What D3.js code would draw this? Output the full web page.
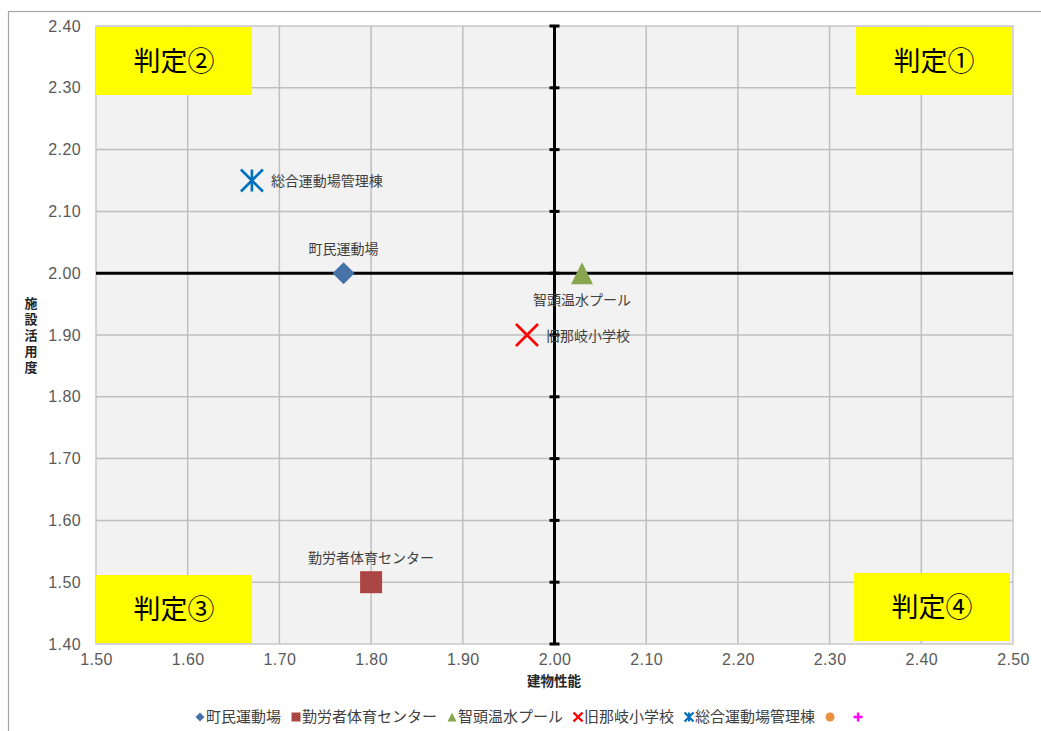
<!DOCTYPE html>
<html><head><meta charset="utf-8">
<script src="https://cdn.jsdelivr.net/npm/d3@7/dist/d3.min.js"></script>
<style>
html,body{margin:0;padding:0;background:#fff;}
svg{display:block;font-family:"Noto Sans CJK JP","Noto Sans",sans-serif;}
</style></head>
<body>
<svg id="chart" width="1041" height="731"></svg>
<script>
// ---- data ----
const xTicks = [1.50,1.60,1.70,1.80,1.90,2.00,2.10,2.20,2.30,2.40,2.50];
const yTicks = [1.40,1.50,1.60,1.70,1.80,1.90,2.00,2.10,2.20,2.30,2.40];
const seriesNames = ["町民運動場","勤労者体育センター","智頭温水プール","旧那岐小学校","総合運動場管理棟"];
const seriesX = [1.77,1.80,2.03,1.97,1.67];
const seriesY = [2.00,1.50,2.00,1.90,2.15];
const quadrantLabels = ["判定①","判定②","判定③","判定④"];
const xTitle = "建物性能";
const yTitle = "施設活用度";
const divideX = 2.00, divideY = 2.00;

// ---- styles ----
const seriesColors = ["#4572A7","#AA4643","#89A54E","#FF0000","#0070C0"];
const seriesShapes = ["diamond","square","triangle","x","asterisk"];
const labelPos = ["above","above","below","right","right"];
const legendExtra = [{shape:"circle",color:"#E8913F"},{shape:"plus",color:"#FF00FF"}];

const svg = d3.select("#chart");
const L=96, R=1013, T=26, B=644;
const x = d3.scaleLinear().domain([1.5,2.5]).range([L,R]);
const y = d3.scaleLinear().domain([1.4,2.4]).range([B,T]);

// outer border
svg.append("rect").attr("x",8.5).attr("y",11.5).attr("width",1100).attr("height",800)
  .attr("fill","none").attr("stroke","#a6a6a6").attr("stroke-width",1.2);

// plot background
svg.append("rect").attr("x",L).attr("y",T).attr("width",R-L).attr("height",B-T)
  .attr("fill","#f2f2f2").attr("stroke","#c8c8c8").attr("stroke-width",1.5);

// gridlines
const grid = svg.append("g");
grid.selectAll("line.v").data(xTicks.slice(1,-1)).join("line")
  .attr("x1",d=>x(d)).attr("x2",d=>x(d)).attr("y1",T).attr("y2",B)
  .attr("stroke","#bfbfbf").attr("stroke-width",1.5);
grid.selectAll("line.h").data(yTicks.slice(1,-1)).join("line")
  .attr("y1",d=>y(d)).attr("y2",d=>y(d)).attr("x1",L).attr("x2",R)
  .attr("stroke","#bfbfbf").attr("stroke-width",1.5);

// axes tick labels
const tickFont = "'Liberation Sans',Arial,sans-serif";
const xAxis = d3.axisBottom(x).tickValues(xTicks).tickFormat(d3.format(".2f")).tickSize(0).tickPadding(9);
const gx = svg.append("g").attr("transform",`translate(0,${B})`).call(xAxis);
gx.select(".domain").remove();
gx.selectAll("text").attr("fill","#595959").attr("font-size",16).attr("letter-spacing","0.4px")
  .attr("font-family",tickFont).attr("dy","0.72em");

const yAxis = d3.axisLeft(y).tickValues(yTicks).tickFormat(d3.format(".2f")).tickSize(0).tickPadding(15);
const gy = svg.append("g").attr("transform",`translate(${L},0)`).call(yAxis);
gy.select(".domain").remove();
gy.selectAll("text").attr("fill","#595959").attr("font-size",16).attr("letter-spacing","0.4px")
  .attr("font-family",tickFont);

// axis titles
svg.append("text").attr("x",554).attr("y",686).attr("text-anchor","middle")
  .attr("font-size",13.5).attr("font-weight","bold").attr("fill","#262626").text(xTitle);
svg.append("text").attr("x",31).attr("y",337).attr("text-anchor","middle")
  .attr("writing-mode","tb").style("writing-mode","vertical-rl").style("text-orientation","upright")
  .attr("letter-spacing","3px")
  .attr("font-size",13).attr("font-weight","bold").attr("fill","#262626").text(yTitle);

// quadrant divider lines
svg.append("line").attr("x1",L).attr("x2",R).attr("y1",y(divideY)).attr("y2",y(divideY))
  .attr("stroke","#000").attr("stroke-width",3);
svg.append("line").attr("x1",x(divideX)).attr("x2",x(divideX)).attr("y1",T).attr("y2",B)
  .attr("stroke","#000").attr("stroke-width",3);
svg.selectAll("line.cap").data(yTicks).join("line")
  .attr("x1",x(divideX)-5).attr("x2",x(divideX)+5).attr("y1",d=>y(d)).attr("y2",d=>y(d))
  .attr("stroke","#000").attr("stroke-width",3);

// quadrant boxes
const boxW=156, boxH=68;
const boxes = [
  {x:R-1-boxW, y:T+1},
  {x:L, y:T+1},
  {x:L, y:B-1-boxH},
  {x:R-3-boxW, y:B-3-boxH}
];
quadrantLabels.forEach((t,i)=>{
  const b=boxes[i];
  svg.append("rect").attr("x",b.x).attr("y",b.y).attr("width",boxW).attr("height",boxH).attr("fill","#FFFF00");
  svg.append("text").attr("x",b.x+boxW/2).attr("y",b.y+boxH/2).attr("dy","0.36em")
    .attr("text-anchor","middle").attr("font-size",27).attr("fill","#000").text(t);
});

// marker drawer
function drawMarker(g, shape, color, cx, cy, s){
  const h=s/2;
  if(shape==="diamond"){
    g.append("path").attr("d",`M${cx},${cy-h}L${cx+h},${cy}L${cx},${cy+h}L${cx-h},${cy}Z`).attr("fill",color);
  } else if(shape==="square"){
    g.append("rect").attr("x",cx-h).attr("y",cy-h).attr("width",s).attr("height",s).attr("fill",color);
  } else if(shape==="triangle"){
    g.append("path").attr("d",`M${cx},${cy-h}L${cx+h},${cy+h}L${cx-h},${cy+h}Z`).attr("fill",color);
  } else if(shape==="x"){
    g.append("path").attr("d",`M${cx-h},${cy-h}L${cx+h},${cy+h}M${cx+h},${cy-h}L${cx-h},${cy+h}`)
      .attr("stroke",color).attr("stroke-width",s>12?2.6:2.4).attr("fill","none");
  } else if(shape==="asterisk"){
    g.append("path").attr("d",`M${cx-h},${cy-h}L${cx+h},${cy+h}M${cx+h},${cy-h}L${cx-h},${cy+h}M${cx},${cy-h}L${cx},${cy+h}`)
      .attr("stroke",color).attr("stroke-width",s>12?2.6:2.2).attr("fill","none");
  } else if(shape==="circle"){
    g.append("circle").attr("cx",cx).attr("cy",cy).attr("r",h).attr("fill",color);
  } else if(shape==="plus"){
    g.append("path").attr("d",`M${cx-h},${cy}L${cx+h},${cy}M${cx},${cy-h}L${cx},${cy+h}`)
      .attr("stroke",color).attr("stroke-width",2.4).attr("fill","none");
  }
}

// points & labels
const pts = svg.append("g");
seriesNames.forEach((n,i)=>{
  const cx=x(seriesX[i]), cy=y(seriesY[i]);
  drawMarker(pts, seriesShapes[i], seriesColors[i], cx, cy, 22);
  const t = pts.append("text").attr("font-size",14).attr("fill","#404040").text(n);
  if(labelPos[i]==="above") t.attr("x",cx).attr("y",cy-24).attr("dy","0.35em").attr("text-anchor","middle");
  else if(labelPos[i]==="below") t.attr("x",cx).attr("y",cy+27).attr("dy","0.35em").attr("text-anchor","middle");
  else t.attr("x",cx+19).attr("y",cy+1).attr("dy","0.35em").attr("text-anchor","start");
});

// legend
const leg = svg.append("g");
const legItems = seriesNames.map((n,i)=>({name:n,shape:seriesShapes[i],color:seriesColors[i]}))
  .concat(legendExtra.map(e=>({name:"",shape:e.shape,color:e.color})));
const ly=717;
let lx=200;
legItems.forEach(it=>{
  drawMarker(leg, it.shape, it.color, lx, ly, 9);
  if(it.name){
    const t = leg.append("text").attr("x",lx+6).attr("y",ly).attr("dy","0.36em")
      .attr("font-size",15).attr("fill","#404040").text(it.name);
    lx += 6 + t.node().getComputedTextLength() + 15;
  } else {
    lx += 28;
  }
});
</script>
</body></html>
